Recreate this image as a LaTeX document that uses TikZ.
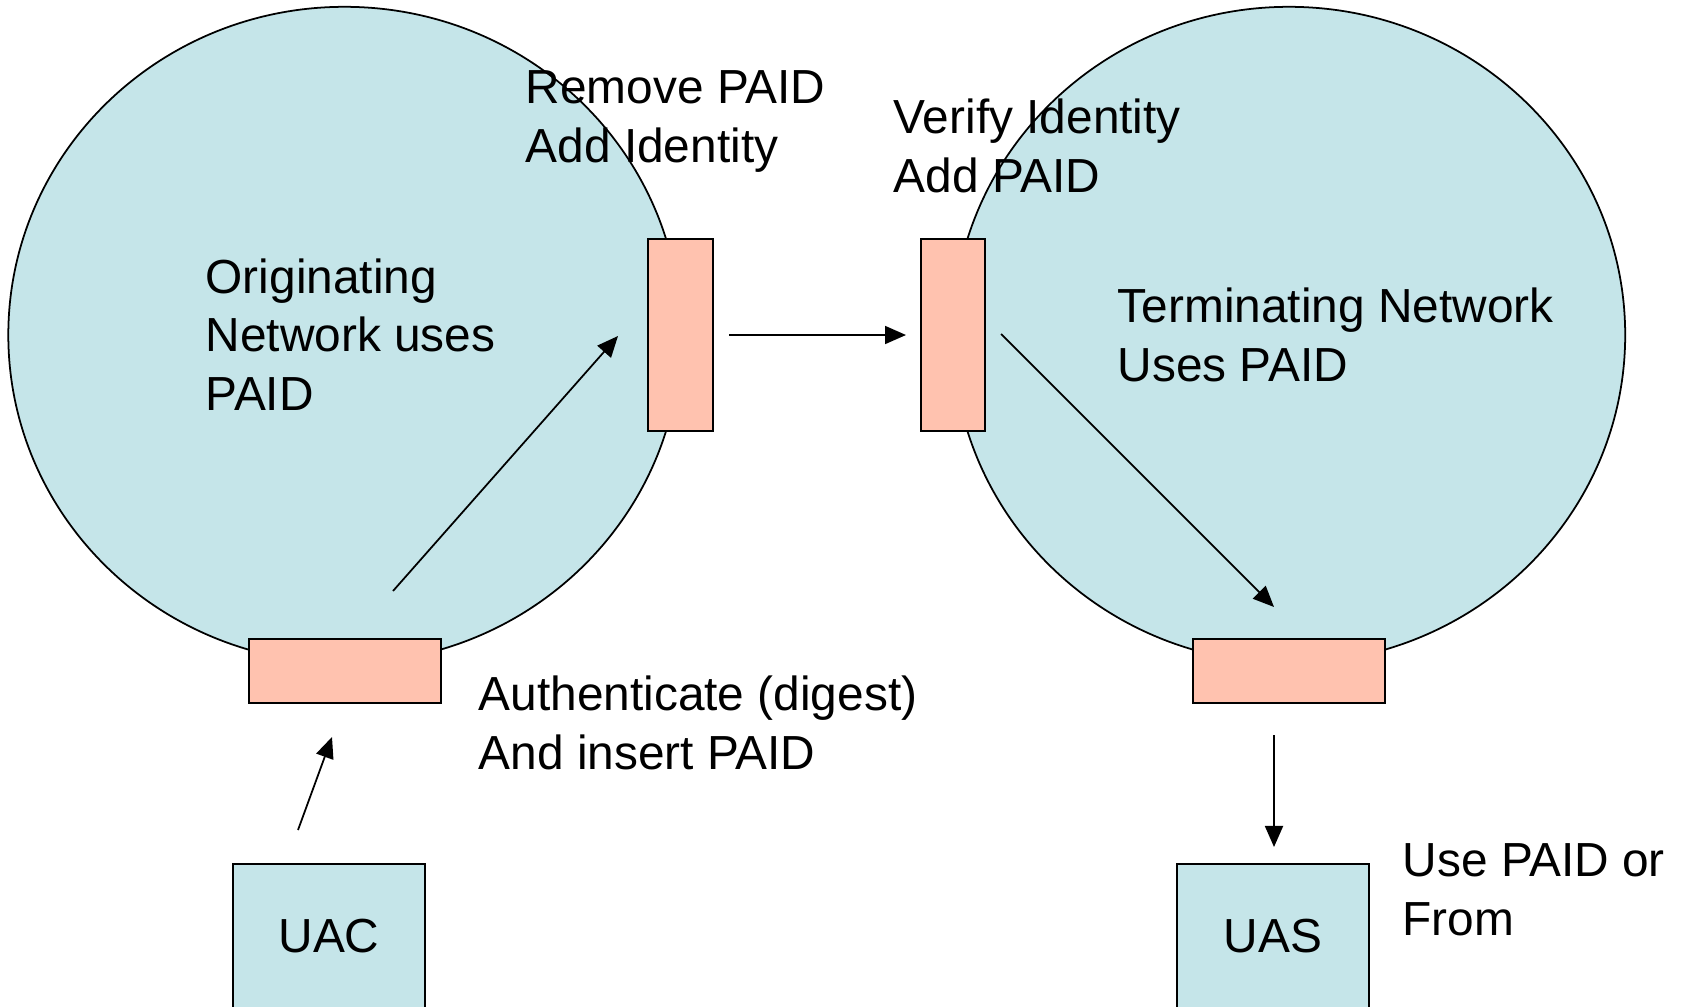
\documentclass[tikz,border=0pt]{standalone}
\usepackage{fontspec}
\setmainfont{Liberation Sans}
\usetikzlibrary{shapes.geometric,arrows.meta}
\definecolor{netblue}{RGB}{197,229,233}
\definecolor{proxyorange}{RGB}{255,194,175}
\tikzset{
  net/.style={ellipse, draw=black, line width=0.5pt, fill=netblue, minimum width=6.72cm, minimum height=6.56cm, inner sep=0pt},
  proxy/.style={rectangle, draw=black, line width=0.5pt, fill=proxyorange, inner sep=0pt},
  ua/.style={rectangle, draw=black, line width=0.5pt, fill=netblue, inner sep=0pt, minimum width=1.92cm, minimum height=2.2cm, anchor=north},
  txt/.style={font=\fontsize{13.6pt}{16.6pt}\selectfont, align=left, inner sep=0pt, anchor=base west},
  ctxt/.style={font=\fontsize{13.6pt}{16.6pt}\selectfont, inner sep=0pt, anchor=base},
  flow/.style={draw=black, line width=0.5pt, -{Triangle[length=0.21cm,width=0.18cm]}}
}
\begin{document}
\begin{tikzpicture}[x=0.01cm,y=-0.01cm]
\useasboundingbox (0,0) rectangle (1691,1006);
\clip (0,0) rectangle (1691,1006);
% networks
\node[net] (ellL) at (344.5,335) {};
\node[net] (ellR) at (1289,335) {};
% proxies
\node[proxy, minimum width=0.65cm, minimum height=1.92cm] (pL) at (680.5,335) {};
\node[proxy, minimum width=0.64cm, minimum height=1.92cm] (pR) at (953,335) {};
\node[proxy, minimum width=1.92cm, minimum height=0.64cm] (bL) at (345,671) {};
\node[proxy, minimum width=1.92cm, minimum height=0.64cm] (bR) at (1289,671) {};
% user agents
\node[ua] (uac) at (329,863) {};
\node[ua] (uas) at (1273,863) {};
\node[ctxt] (uactxt) at (329,952) {UAC};
\node[ctxt] (uastxt) at (1273,952) {UAS};
% texts (anchor = baseline of the last line)
\node[txt] (t1) at (525,162) {Remove PAID\\Add Identity};
\node[txt] (t2) at (893,192) {Verify Identity\\Add PAID};
\node[txt] (t3) at (205,410) {Originating\\Network uses\\PAID};
\node[txt] (t4) at (1117,381) {Terminating Network\\Uses PAID};
\node[txt] (t5) at (478,769) {Authenticate (digest)\\And insert PAID};
\node[txt] (t6) at (1402,935) {Use PAID or\\From};
% arrow endpoints
\coordinate (a1s) at (298,830);
\coordinate (a1e) at (332,737);
\coordinate (a2s) at (393,591);
\coordinate (a2e) at (618,336);
\coordinate (a3s) at (729,335);
\coordinate (a3e) at (906,335);
\coordinate (a4s) at (1001,334);
\coordinate (a4e) at (1274,607);
\coordinate (a5s) at (1274,735);
\coordinate (a5e) at (1274,847);
\draw[flow] (a1s) -- (a1e);
\draw[flow] (a2s) -- (a2e);
\draw[flow] (a3s) -- (a3e);
\draw[flow] (a4s) -- (a4e);
\draw[flow] (a5s) -- (a5e);
\end{tikzpicture}
\end{document}
